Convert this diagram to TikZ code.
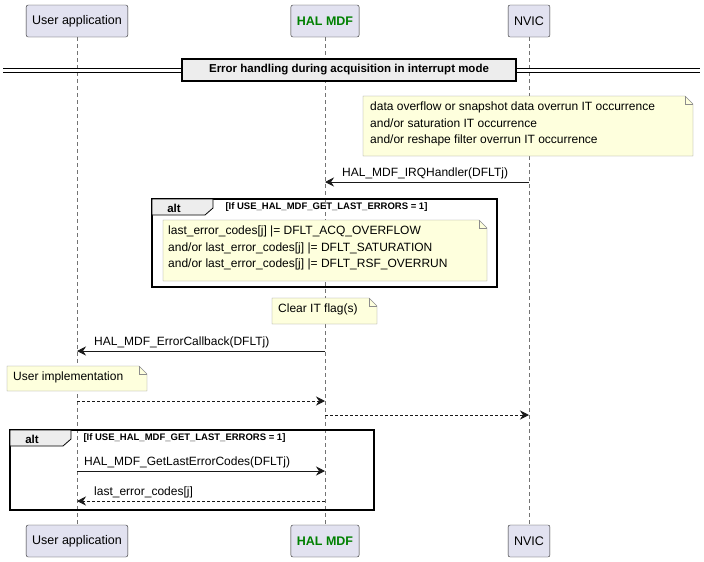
\documentclass[tikz,border=0pt]{standalone}
\usepackage{fontspec}
\setmainfont{Liberation Sans}
\usetikzlibrary{arrows.meta, positioning, shapes.misc, calc}
\definecolor{partfill}{HTML}{E2E2F0}
\definecolor{notefill}{HTML}{FEFFDD}
\definecolor{halgreen}{HTML}{008000}
\tikzset{
  part/.style={draw=black!85, fill=partfill, rounded corners=2pt, minimum height=32, inner xsep=6pt, font=\fontsize{12.5}{14}\selectfont},
  life/.style={dashed, black!55, dash pattern=on 4pt off 3pt},
  msg/.style={-{Stealth[length=9pt,width=9pt,inset=3pt]}, black!90, line width=0.8pt},
  ret/.style={msg, dash pattern=on 3pt off 2pt},
  lbl/.style={font=\fontsize{12}{14}\selectfont, inner sep=0pt, anchor=south west},
  frame/.style={draw=black, line width=1.3pt},
  condtxt/.style={font=\bfseries\fontsize{9.5}{11}\selectfont, anchor=west},
  notetxt/.style={font=\fontsize{12}{16.5}\selectfont, align=left, anchor=north west, inner sep=0pt},
}
\newcommand{\notebox}[4]{% x1 y1 x2 y2
  \filldraw[fill=notefill, draw=black!45] (#1,#2) -- (#3-8,#2) -- (#3,#2+8) -- (#3,#4) -- (#1,#4) -- cycle;
  \draw[black!45] (#3-8,#2) -- (#3-8,#2+8) -- (#3,#2+8);}
\newcommand{\altframe}[4]{% x1 y1 x2 y2
  \draw[frame] (#1,#2) rectangle (#3,#4);
  \filldraw[fill=black!7, draw=black, line width=0.8pt] (#1,#2) -- (#1+61,#2) -- (#1+61,#2+9) -- (#1+53,#2+16) -- (#1,#2+16) -- cycle;
  \node[font=\bfseries\fontsize{11.5}{13}\selectfont] at (#1+22,#2+9) {alt};}
\begin{document}
\begin{tikzpicture}[x=1pt, y=-1pt]
  \useasboundingbox (0,0) rectangle (704,562);
  % participants
  \node[part] (usrT) at (77,21) {User application};
  \node[part, text=halgreen, font=\bfseries\fontsize{12.5}{14}\selectfont] (halT) at (325,21) {HAL MDF};
  \node[part] (nvicT) at (529,21) {NVIC};
  \node[part] (usrB) at (77,541) {User application};
  \node[part, text=halgreen, font=\bfseries\fontsize{12.5}{14}\selectfont] (halB) at (325,541) {HAL MDF};
  \node[part] (nvicB) at (529,541) {NVIC};
  \foreach \p in {usr, hal, nvic}
    \draw[life] (\p T.south) -- (\p B.north);
  % divider
  \draw[line width=0.8pt] (3,68) -- (700,68) (3,72) -- (700,72);
  \node[draw, line width=1.3pt, fill=black!7, minimum width=334, minimum height=22, font=\bfseries\fontsize{11.5}{13}\selectfont] (sect) at (349,70) {Error handling during acquisition in interrupt mode};
  % note over NVIC
  \notebox{363}{96}{693}{156}
  \node[notetxt] (nIT) at (370,102) {data overflow or snapshot data overrun IT occurrence\\and/or saturation IT occurrence\\and/or reshape filter overrun IT occurrence};
  % IRQ handler
  \coordinate (nv1) at (529,182); \coordinate (ha1) at (325,182);
  \draw[msg] (nv1) -- (ha1);
  \node[lbl] (l1) at (342,179) {HAL\_MDF\_IRQHandler(DFLTj)};
  % first alt
  \altframe{152}{199}{497}{287}
  \node[condtxt] (c1) at (222,207) {[If USE\_HAL\_MDF\_GET\_LAST\_ERRORS = 1]};
  \notebox{163}{220}{487}{281}
  \node[notetxt] (nErr) at (168,226) {last\_error\_codes[j] |= DFLT\_ACQ\_OVERFLOW\\and/or last\_error\_codes[j] |= DFLT\_SATURATION\\and/or last\_error\_codes[j] |= DFLT\_RSF\_OVERRUN};
  % clear flag
  \notebox{272}{298}{377}{324}
  \node[notetxt] (nClr) at (278,304) {Clear IT flag(s)};
  % error callback
  \coordinate (ha2) at (325,351); \coordinate (us2) at (77,351);
  \draw[msg] (ha2) -- (us2);
  \node[lbl] (l2) at (94,348) {HAL\_MDF\_ErrorCallback(DFLTj)};
  \notebox{7}{366}{147}{391}
  \node[notetxt] (nUsr) at (13,372) {User implementation};
  % returns
  \coordinate (us3) at (77,401); \coordinate (ha3) at (325,401);
  \draw[ret] (us3) -- (ha3);
  \coordinate (ha4) at (325,415); \coordinate (nv4) at (529,415);
  \draw[ret] (ha4) -- (nv4);
  % second alt
  \altframe{10}{430}{374}{510}
  \node[condtxt] (c2) at (80,438) {[If USE\_HAL\_MDF\_GET\_LAST\_ERRORS = 1]};
  \coordinate (us5) at (77,471); \coordinate (ha5) at (325,471);
  \draw[msg] (us5) -- (ha5);
  \node[lbl] (l5) at (84,468) {HAL\_MDF\_GetLastErrorCodes(DFLTj)};
  \coordinate (ha6) at (325,501); \coordinate (us6) at (77,501);
  \draw[ret] (ha6) -- (us6);
  \node[lbl] (l6) at (94,498) {last\_error\_codes[j]};
\end{tikzpicture}
\end{document}
